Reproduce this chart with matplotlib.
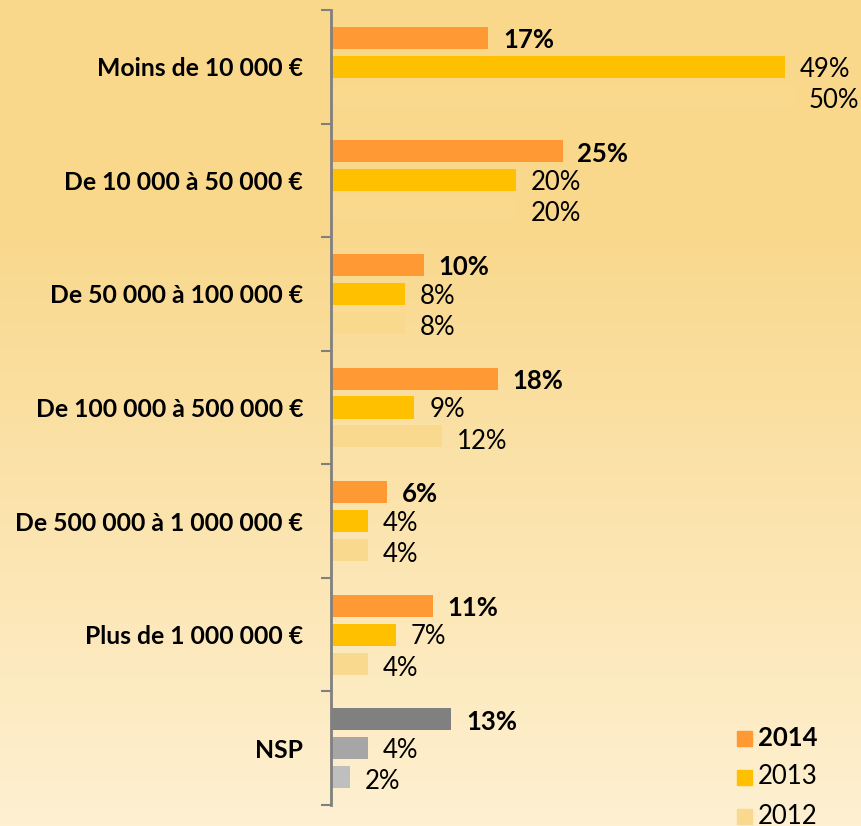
import numpy as np
import matplotlib.pyplot as plt
from matplotlib.colors import LinearSegmentedColormap
from matplotlib.patches import Rectangle

categories = ["Moins de 10 000 €", "De 10 000 à 50 000 €", "De 50 000 à 100 000 €",
              "De 100 000 à 500 000 €", "De 500 000 à 1 000 000 €",
              "Plus de 1 000 000 €", "NSP"]
v2014 = [17, 25, 10, 18, 6, 11, 13]
v2013 = [49, 20, 8, 9, 4, 7, 4]
v2012 = [50, 20, 8, 12, 4, 4, 2]
years = ["2014", "2013", "2012"]

c2014 = ["#FF9933"] * 6 + ["#808080"]
c2013 = ["#FFC000"] * 6 + ["#A6A6A6"]
c2012 = ["#F9D98E"] * 6 + ["#BFBFBF"]

plt.rcParams['font.family'] = ['Lato', 'DejaVu Sans']

W, H = 861, 826
fig = plt.figure(figsize=(W / 100, H / 100), dpi=100)

# background gradient: flat at the top, then lighter towards the bottom
bg = fig.add_axes([0, 0, 1, 1], zorder=-1)
grad = LinearSegmentedColormap.from_list(
    "bg", [(0, "#F9D88C"), (0.27, "#F9D88C"), (1, "#FEF0D1")])
bg.imshow(np.linspace(0, 1, 256).reshape(-1, 1), aspect='auto', cmap=grad,
          extent=[0, 1, 0, 1])
bg.axis('off')

ax = fig.add_axes([331 / W, 1 - 805 / H, 528 / W, 795 / H])
ax.patch.set_alpha(0)

y = np.arange(len(categories))
step = 0.255
h = 0.194
ax.barh(y - step, v2014, height=h, color=c2014)
ax.barh(y, v2013, height=h, color=c2013)
ax.barh(y + step, v2012, height=h, color=c2012)

dy = 0.02  # labels sit a touch below the bar centres
for i in range(len(categories)):
    ax.text(v2014[i] + 1.6, y[i] - step + dy, f"{v2014[i]}%", va='center', ha='left',
            fontsize=18.5, fontweight='bold')
    ax.text(v2013[i] + 1.6, y[i] + dy, f"{v2013[i]}%", va='center', ha='left',
            fontsize=18.5)
    ax.text(v2012[i] + 1.6, y[i] + step + 2 * dy, f"{v2012[i]}%", va='center', ha='left',
            fontsize=18.5)

ax.set_xlim(0, 57)
ax.set_ylim(len(categories) - 0.5, -0.5)
ax.set_xticks([])
ax.set_yticks(y)
ax.set_yticklabels(categories, fontsize=17.8, fontweight='bold')
ax.tick_params(axis='y', which='major', length=0, pad=20)
ax.set_yticks(np.arange(-0.5, len(categories)), minor=True)
ax.tick_params(axis='y', which='minor', length=7, width=1.5, color='#808080')
for s in ['top', 'right', 'bottom']:
    ax.spines[s].set_visible(False)
ax.spines['left'].set_color('#808080')
ax.spines['left'].set_linewidth(2)

# legend
leg_colors = ["#FF9933", "#FFC000", "#F9D98E"]
leg_y = [738, 777, 816]
for yr, col, yy in zip(years, leg_colors, leg_y):
    fig.add_artist(Rectangle((737 / W, 1 - (yy + 7.5) / H), 15 / W, 15 / H,
                             transform=fig.transFigure, color=col))
    fig.text(758 / W, 1 - yy / H, yr, va='center', ha='left', fontsize=18.5,
             fontweight='bold' if yr == "2014" else 'normal')

fig.savefig("out.png", dpi=100)
